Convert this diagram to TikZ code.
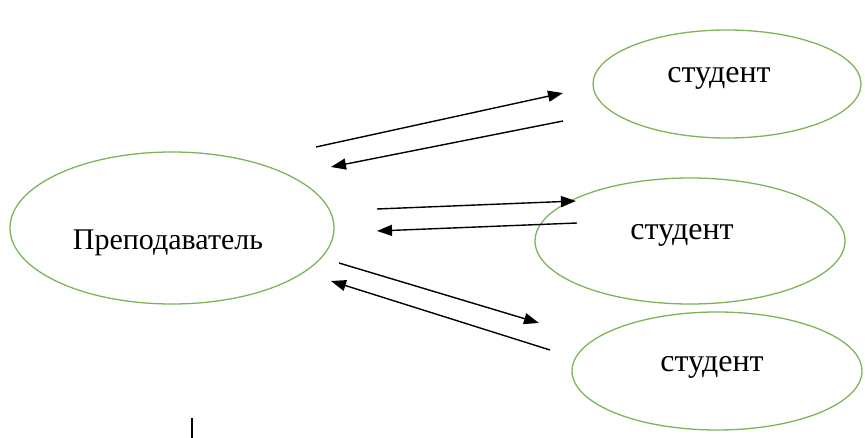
\documentclass[tikz,border=0pt]{standalone}
\usepackage{fontspec}
\setmainfont{Liberation Serif}
\usetikzlibrary{shapes.geometric,arrows.meta}
\definecolor{ellgreen}{RGB}{125,180,90}
\tikzset{
  oval/.style={ellipse, draw=ellgreen, line width=1.3pt, inner sep=0pt},
  lbl/.style={inner sep=0pt, font=\fontsize{30}{36}\selectfont},
  slbl/.style={inner sep=0pt, font=\fontsize{32}{38}\selectfont},
  flow/.style={line width=1.4pt, -{Triangle[length=15pt,width=11pt]}}
}
\begin{document}
\begin{tikzpicture}[x=1pt,y=-1pt]
\useasboundingbox (0,0) rectangle (865,438);
% ellipses
\node[oval, minimum width=324pt, minimum height=152pt] (teach) at (172,228) {};
\node[oval, minimum width=268pt, minimum height=108pt] (s1) at (727,84) {};
\node[oval, minimum width=310pt, minimum height=126pt] (s2) at (690,241) {};
\node[oval, minimum width=290pt, minimum height=118pt] (s3) at (717,371) {};
% texts
\node[lbl] (tteach) at (168,243) {Преподаватель};
\node[slbl] (ts1) at (719,78) {студент};
\node[slbl] (ts2) at (682,235) {студент};
\node[slbl] (ts3) at (712,367) {студент};
% arrow end points
\coordinate (a1s) at (316,147); \coordinate (a1e) at (563,93);
\coordinate (b1s) at (563,121); \coordinate (b1e) at (331,167);
\coordinate (a2s) at (377,209); \coordinate (a2e) at (576,201);
\coordinate (b2s) at (577,223); \coordinate (b2e) at (377,231);
\coordinate (a3s) at (339,263); \coordinate (a3e) at (539,323);
\coordinate (b3s) at (550,350); \coordinate (b3e) at (331,281);
\draw[flow] (a1s) -- (a1e);
\draw[flow] (b1s) -- (b1e);
\draw[flow] (a2s) -- (a2e);
\draw[flow] (b2s) -- (b2e);
\draw[flow] (a3s) -- (a3e);
\draw[flow] (b3s) -- (b3e);
% cursor mark
\coordinate (c1) at (192,418); \coordinate (c2) at (192,438);
\draw[line width=2pt] (c1) -- (c2);
\end{tikzpicture}
\end{document}
